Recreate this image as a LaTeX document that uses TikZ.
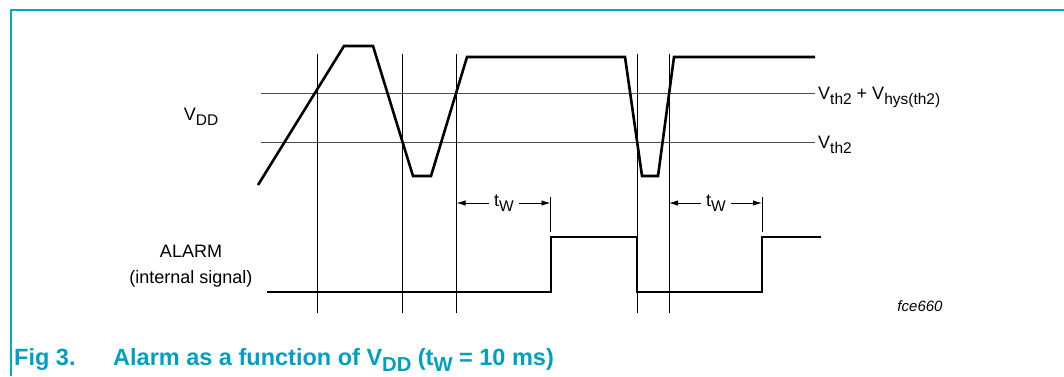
\documentclass[tikz,border=0pt]{standalone}
\usepackage{fontspec}
\setmainfont{Liberation Sans}
\usetikzlibrary{arrows.meta}
\definecolor{framecyan}{RGB}{0,170,200}
\definecolor{captioncyan}{RGB}{0,160,195}
\newcommand{\lo}[1]{\raisebox{-0.28em}{\scalebox{0.86}{#1}}}

\begin{document}
\begin{tikzpicture}[x=1pt,y=-1pt,
    signal/.style={line width=2.6pt,line join=miter},
    level/.style={line width=0.9pt,black!70},
    marker/.style={line width=0.9pt},
    txt/.style={font=\fontsize{18}{26}\selectfont,inner sep=0pt},
    twlabel/.style={txt,inner xsep=5pt},
    twarrow/.style={-{Latex[length=9pt,width=5.5pt]},line width=0.9pt}]
\useasboundingbox (0,0) rectangle (1064,376);
        % frame
        \draw[framecyan,line width=2pt] (11,376) -- (11,10) -- (1064,10);
        % threshold levels
        \draw[level] (261, 93) -- (815, 93);
        \draw[level] (261,142) -- (815,142);
        \node[txt,anchor=base west] (vhys) at (818, 99.5) {V\lo{th2} + V\lo{hys(th2)}};
        \node[txt,anchor=base west] (vth)  at (818,148.5) {V\lo{th2}};
        % time markers
        \foreach \t in {317,402,456.5,637,669}
            \draw[marker] (\t,54) -- (\t,313);
        \draw[marker] (550.5,197) -- (550.5,232);
        \draw[marker] (762,197) -- (762,232);
        % supply voltage
        \draw[signal] (258,185) -- (344,46) -- (373,46) -- (413,176) -- (431,176) -- (467,57)
                      -- (625,57) -- (642,176) -- (658,176) -- (674,57) -- (815,57);
        \node[txt] (vdd) at (201,117) {V\lo{DD}};
        % alarm output
        \draw[signal] (267,292) -- (551,292) -- (551,237) -- (637,237) -- (637,292)
                      -- (762,292) -- (762,237) -- (821,237);
        \node[txt,align=center] (alarm) at (191,266) {ALARM\\(internal signal)};
        % watchdog times
        \coordinate (twa) at (456.5,203);
        \coordinate (twb) at (550.5,203);
        \coordinate (twc) at (669,203);
        \coordinate (twd) at (762,203);
        \node[twlabel] (tw1) at (504,203) {t\lo{W}};
        \node[twlabel] (tw2) at (716,203) {t\lo{W}};
        \draw[twarrow] (tw1.west) -- (twa);
        \draw[twarrow] (tw1.east) -- (twb);
        \draw[twarrow] (tw2.west) -- (twc);
        \draw[twarrow] (tw2.east) -- (twd);
        \node[font=\fontsize{15}{18}\selectfont\itshape,inner sep=0pt] (code) at (920,306) {fce660};
        % caption
        \node[anchor=base west,inner sep=0pt,text=captioncyan,font=\fontsize{23.5}{28}\selectfont\bfseries] (caption) at (14,365)
            {\makebox[99pt][l]{Fig 3.}Alarm as a function of V\lo{DD} (t\lo{W} = 10 ms)};
\end{tikzpicture}
\end{document}
